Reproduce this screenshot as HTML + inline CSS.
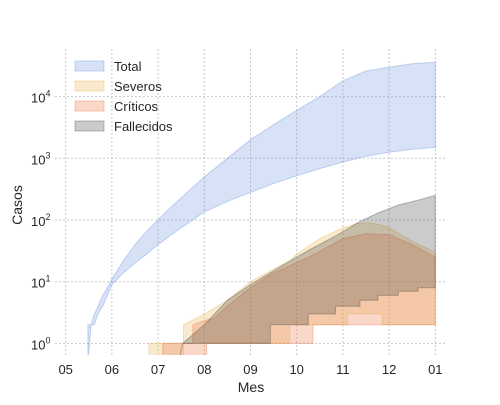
<!DOCTYPE html>
<html><head><meta charset="utf-8"><style>
body{margin:0;background:#fff;font-family:"Liberation Sans","DejaVu Sans",sans-serif;}
svg text{fill:#262626;font-family:"Liberation Sans","DejaVu Sans",sans-serif;}
</style></head><body>
<svg id="c" width="500" height="400">
<g id="grid"></g><g id="bands" clip-path="url(#clip)"></g><g id="axes"></g><g id="legend"></g>
<defs><clipPath id="clip"><rect x="55" y="49" width="392" height="306"/></clipPath></defs>
</svg>
<script>
const monthLabels=["05","06","07","08","09","10","11","12","01"];
const yTickExps=[0,1,2,3,4];
const seriesNames=["Total","Severos","Críticos","Fallecidos"];
const totalX=[0.48,0.48,0.55,0.62,0.7,0.8,0.9,1,1.25,1.5,1.75,2,2.25,2.5,2.75,3,3.5,4,4.5,5,5.5,6,6.5,7,7.5,8];
const totalUpper=[0.5,2,2,3,4,6,8,11,22,40,65,100,155,230,340,500,1000,2000,3500,6000,10000,18000,26000,30000,34000,36000];
const totalLower=[0.5,0.5,2,2,3,4,6,9,14,20,28,40,55,75,100,135,200,280,390,520,680,870,1080,1250,1400,1500];
const sevX=[1.8,1.8,2.55,2.55,3,3.5,4,4.43,4.85,4.85,5,5.5,6,6.1,6.1,6.3,6.6,6.85,6.85,7,7.5,8];
const sevUpper=[0.5,1,1,2,3,5,10,15,22,22,28,50,75,78,78,88,90,82,82,75,45,30];
const sevLower=[0.5,0.5,0.5,1,1,1,1,1,1,2,2,2,2,2,3,3,3,3,2,2,2,2];
const critX=[2.1,2.1,2.75,2.75,3.05,3.05,3.2,3.5,4,4.43,4.43,5.35,5.35,6,6.5,7,7.5,8];
const critUpper=[0.5,1,1,2,2.4,2.4,2.5,4,8,13,13,27,27,50,60,58,40,25];
const critLower=[0.5,0.5,0.5,0.5,0.5,1,1,1,1,1,1,1,2,2,2,2,2,2];
const fallX=[2.45,2.53,3,3.5,4,4.43,4.43,5,5.25,5.25,5.84,5.84,6.37,6.37,6.76,6.76,7.2,7.2,7.63,7.63,8];
const fallUpper=[0.5,1,2,5,9,14,14,25,32,32,55,55,95,95,130,130,175,175,210,210,250];
const fallLower=[0.5,1,1,1,1,1,2,2,2,3,3,4,4,5,5,6,6,7,7,8,8];
const colors=["rgba(100,140,220,0.25)","rgba(235,185,90,0.3)","rgba(235,125,80,0.3)","rgba(70,70,70,0.28)"];
const strokes=["rgba(100,140,220,0.35)","rgba(235,185,90,0.4)","rgba(235,125,80,0.4)","rgba(70,70,70,0.35)"];
const NS="http://www.w3.org/2000/svg";
function xs(m){return 65.7+m*46.2;}
function ys(v){return 343.4-Math.log10(Math.max(v,0.3))*61.7;}
function mk(t,a,p){const e=document.createElementNS(NS,t);for(const k in a)e.setAttribute(k,a[k]);p.appendChild(e);return e;}
const grid=document.getElementById('grid'),axes=document.getElementById('axes');
monthLabels.forEach((l,i)=>{
  const x=xs(i);
  const g=mk('line',{x1:x,x2:x,y1:49,y2:355,stroke:'#c8c8c8','stroke-dasharray':'2,2','stroke-width':1},grid);
  
  
  const t=mk('text',{x:x,y:374,'text-anchor':'middle','font-size':13},axes);t.textContent=l;
  
  
});
yTickExps.forEach(e=>{
  const y=ys(Math.pow(10,e));
  const g=mk('line',{x1:55,x2:447,y1:y,y2:y,stroke:'#c8c8c8','stroke-dasharray':'2,2','stroke-width':1},grid);
  
  
  const t=mk('text',{x:31,y:y+6,'text-anchor':'start','font-size':13},axes);
  
  
  t.textContent='10';
  const s=mk('tspan',{dy:-6,'font-size':9},t);s.textContent=String(e);
});
const bandsG=document.getElementById('bands');
function band(X,U,L,i,name){
  let d='';X.forEach((m,k)=>{d+=(k?'L':'M')+xs(m).toFixed(1)+','+ys(U[k]).toFixed(1);});
  for(let k=X.length-1;k>=0;k--)d+='L'+xs(X[k]).toFixed(1)+','+ys(L[k]).toFixed(1);
  d+='Z';
  const p=mk('path',{d:d,fill:colors[i],stroke:strokes[i],'stroke-width':1},bandsG);
  
  
}
band(totalX,totalUpper,totalLower,0,'total-band');
band(sevX,sevUpper,sevLower,1,'severos-band');
band(critX,critUpper,critLower,2,'criticos-band');
band(fallX,fallUpper,fallLower,3,'fallecidos-band');
const xl=mk('text',{x:251,y:392,'text-anchor':'middle','font-size':14},axes);xl.textContent='Mes';


const yl=mk('text',{x:22,y:205,'text-anchor':'middle','font-size':14,transform:'rotate(-90 22 205)'},axes);yl.textContent='Casos';


const lg=document.getElementById('legend');
seriesNames.forEach((n,i)=>{
  const y=61+i*20;
  const r=mk('rect',{x:75,y:y,width:29,height:10,fill:colors[i],stroke:strokes[i]},lg);
  
  
  const t=mk('text',{x:114,y:y+10,'font-size':13},lg);t.textContent=n;
  
  
});
</script>
</body></html>
